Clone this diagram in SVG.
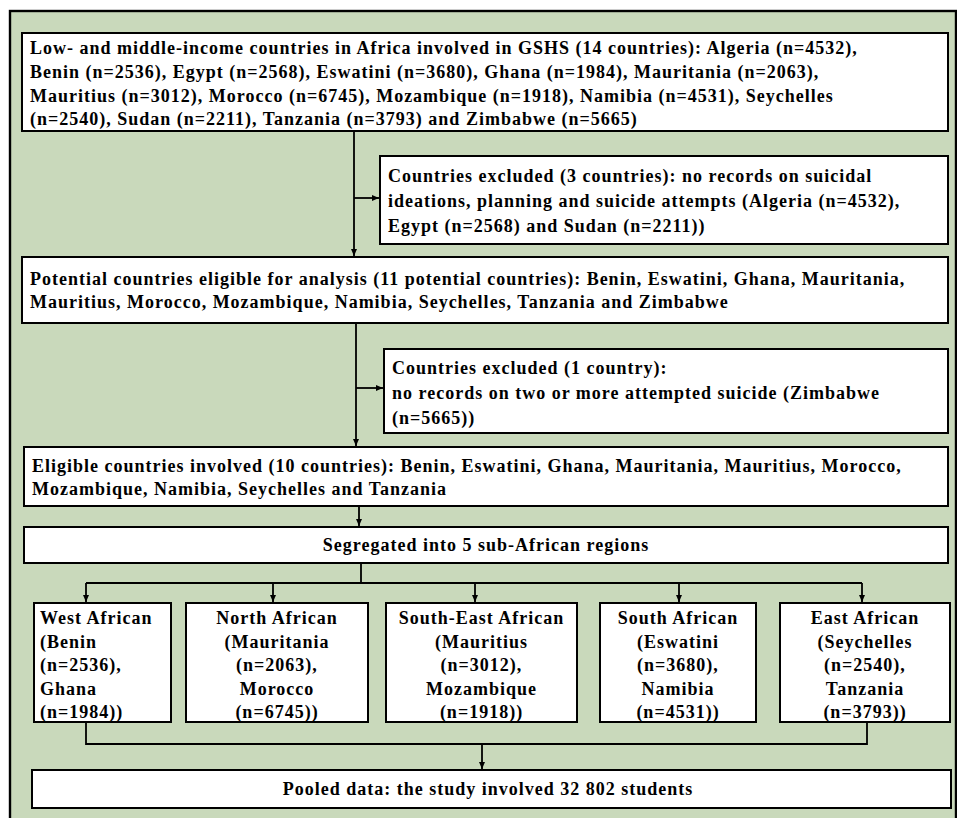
<svg xmlns="http://www.w3.org/2000/svg" width="957" height="818" viewBox="0 0 957 818">
<defs>
<marker id="ah" markerWidth="8" markerHeight="8" refX="7" refY="4" orient="auto" markerUnits="userSpaceOnUse">
<path d="M0,1 L7,4 L0,7 Z" fill="#000"/>
</marker>
<style>
.box{fill:#fff;stroke:#000;stroke-width:2}
.t{font-family:"Liberation Serif","Times New Roman",serif;font-weight:bold;font-size:18px;fill:#000;letter-spacing:1px}
.c{text-anchor:middle}
.ln{fill:none;stroke:#000;stroke-width:1.8}
.ar{fill:none;stroke:#000;stroke-width:1.8;marker-end:url(#ah)}
</style>
</defs>
<rect x="0" y="0" width="957" height="818" fill="#fff"/>
<rect x="10" y="11" width="946" height="820" fill="#c9d9bb" stroke="#000" stroke-width="2.4"/>

<g id="connectors">
<path class="ar" d="M354,131 V256"/>
<path class="ar" d="M354,198 H379"/>
<path class="ar" d="M356,323 V446"/>
<path class="ar" d="M356,388 H383"/>
<path class="ar" d="M359,506 V526"/>
<path class="ln" d="M361,563 V583 M86,583 H862"/>
<path class="ar" d="M86,583 V602"/>
<path class="ar" d="M273,583 V602"/>
<path class="ar" d="M475,583 V602"/>
<path class="ar" d="M679,583 V602"/>
<path class="ar" d="M862,583 V602"/>
<path class="ln" d="M86,722 V744 H867 V722"/>
<path class="ar" d="M482,744 V769"/>
</g>

<g id="n1">
<rect class="box" x="22" y="33" width="926" height="98"/>
<text class="t" x="30" y="54">Low- and middle-income countries in Africa involved in GSHS (14 countries): Algeria (n=4532),</text>
<text class="t" x="30" y="78">Benin (n=2536), Egypt (n=2568), Eswatini (n=3680), Ghana (n=1984), Mauritania (n=2063),</text>
<text class="t" x="30" y="102">Mauritius (n=3012), Morocco (n=6745), Mozambique (n=1918), Namibia (n=4531), Seychelles</text>
<text class="t" x="30" y="125">(n=2540), Sudan (n=2211), Tanzania (n=3793) and Zimbabwe (n=5665)</text>
</g>

<g id="n2">
<rect class="box" x="380" y="156" width="568" height="88"/>
<text class="t" x="388" y="182">Countries excluded (3 countries): no records on suicidal</text>
<text class="t" x="388" y="207">ideations, planning and suicide attempts (Algeria (n=4532),</text>
<text class="t" x="388" y="232">Egypt (n=2568) and Sudan (n=2211))</text>
</g>

<g id="n3">
<rect class="box" x="22" y="257" width="926" height="66"/>
<text class="t" x="30" y="285">Potential countries eligible for analysis (11 potential countries): Benin, Eswatini, Ghana, Mauritania,</text>
<text class="t" x="30" y="308">Mauritius, Morocco,  Mozambique, Namibia, Seychelles, Tanzania and Zimbabwe</text>
</g>

<g id="n4">
<rect class="box" x="384" y="349" width="564" height="84"/>
<text class="t" x="392" y="374">Countries excluded (1 country):</text>
<text class="t" x="392" y="399">no records on two or more attempted suicide (Zimbabwe</text>
<text class="t" x="392" y="424">(n=5665))</text>
</g>

<g id="n5">
<rect class="box" x="24" y="447" width="924" height="59"/>
<text class="t" x="32" y="472">Eligible countries involved (10 countries): Benin, Eswatini, Ghana, Mauritania, Mauritius, Morocco,</text>
<text class="t" x="32" y="495">Mozambique, Namibia, Seychelles and Tanzania</text>
</g>

<g id="n6">
<rect class="box" x="24" y="527" width="924" height="36"/>
<text class="t c" x="486" y="551">Segregated into 5 sub-African regions</text>
</g>

<g id="n7">
<rect class="box" x="34" y="603" width="137" height="119"/>
<text class="t" x="40" y="624">West African</text>
<text class="t" x="40" y="647.5">(Benin</text>
<text class="t" x="40" y="671">(n=2536),</text>
<text class="t" x="40" y="694.5">Ghana</text>
<text class="t" x="40" y="718">(n=1984))</text>
</g>

<g id="n8">
<rect class="box" x="186" y="603" width="182" height="119"/>
<text class="t c" x="277" y="624">North African</text>
<text class="t c" x="277" y="647.5">(Mauritania</text>
<text class="t c" x="277" y="671">(n=2063),</text>
<text class="t c" x="277" y="694.5">Morocco</text>
<text class="t c" x="277" y="718">(n=6745))</text>
</g>

<g id="n9">
<rect class="box" x="386" y="603" width="191" height="119"/>
<text class="t c" x="481.5" y="624">South-East African</text>
<text class="t c" x="481.5" y="647.5">(Mauritius</text>
<text class="t c" x="481.5" y="671">(n=3012),</text>
<text class="t c" x="481.5" y="694.5">Mozambique</text>
<text class="t c" x="481.5" y="718">(n=1918))</text>
</g>

<g id="n10">
<rect class="box" x="600" y="603" width="156" height="119"/>
<text class="t c" x="678" y="624">South African</text>
<text class="t c" x="678" y="647.5">(Eswatini</text>
<text class="t c" x="678" y="671">(n=3680),</text>
<text class="t c" x="678" y="694.5">Namibia</text>
<text class="t c" x="678" y="718">(n=4531))</text>
</g>

<g id="n11">
<rect class="box" x="780" y="603" width="170" height="119"/>
<text class="t c" x="865" y="624">East African</text>
<text class="t c" x="865" y="647.5">(Seychelles</text>
<text class="t c" x="865" y="671">(n=2540),</text>
<text class="t c" x="865" y="694.5">Tanzania</text>
<text class="t c" x="865" y="718">(n=3793))</text>
</g>

<g id="n12">
<rect class="box" x="32" y="770" width="919" height="38"/>
<text class="t c" x="488" y="795">Pooled data: the study involved 32 802 students</text>
</g>
</svg>
